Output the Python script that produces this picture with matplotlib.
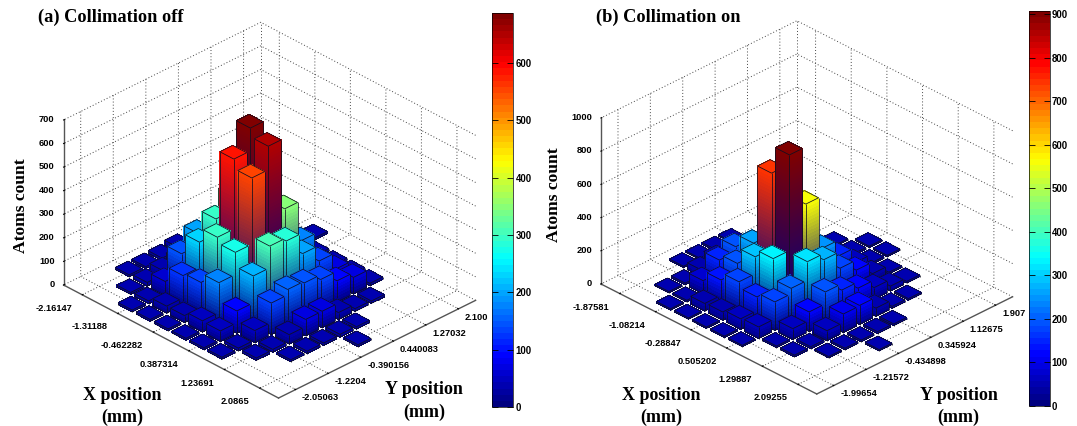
import numpy as np
import matplotlib
matplotlib.use('Agg')
import matplotlib.pyplot as plt
from matplotlib.colors import ListedColormap, Normalize
from matplotlib.cm import ScalarMappable
from matplotlib.patches import Rectangle
from mpl_toolkits.mplot3d import proj3d
from mpl_toolkits.mplot3d.art3d import Poly3DCollection, Line3DCollection

n = np.nan
counts_a = [
    [n, n, 8, 8, 10, 20, n, n, n, n, n],
    [n, 8, 16, 30, 40, 30, n, n, n, n, n],
    [8, 12, 60, 143, 195, 60, 30, n, n, n, n],
    [8, 30, 125, 232, 296, 360, 150, 60, 20, 12, 8],
    [8, 30, 136, 293, 590, 687, 250, 80, 30, 10, n],
    [8, 48, 175, 269, 550, 650, 350, 180, 50, 10, n],
    [8, 45, 95, 209, 301, 288, 200, 134, 65, 10, n],
    [8, 12, 52, 134, 157, 150, 130, 90, 70, 10, n],
    [n, 10, 12, 40, 70, 70, 30, 12, 10, n, n],
    [n, n, 8, 10, 10, 12, 10, n, n, n, n],
    [n, n, n, n, n, 8, n, n, n, n, n],
]
counts_b = [
    [n, n, n, 8, 8, 10, 8, n, n, n, n],
    [n, 8, 10, 40, 60, 15, n, n, n, n, n],
    [8, 10, 80, 155, 187, 100, 40, 15, n, n, n],
    [8, 46, 139, 190, 263, 180, 120, 50, 20, 8, n],
    [8, 50, 183, 285, 740, 300, 200, 100, 30, 10, 8],
    [8, 64, 147, 329, 905, 560, 245, 150, 60, 10, 8],
    [8, 70, 172, 205, 317, 280, 180, 120, 50, 10, n],
    [n, 10, 66, 118, 190, 152, 115, 70, 30, 10, n],
    [n, 10, 12, 60, 112, 115, 50, 12, 10, n, n],
    [n, n, 8, 10, 10, 12, 10, n, n, n, n],
    [n, n, n, n, 8, n, n, n, n, n, n],
]
xticks_a = [-2.16147, -1.31188, -0.462282, 0.387314, 1.23691, 2.0865]
yticks_a = [-2.05063, -1.2204, -0.390156, 0.440083, 1.27032, 2.10056]
xticks_b = [-1.87581, -1.08214, -0.28847, 0.505202, 1.29887, 2.09255]
yticks_b = [-1.99654, -1.21572, -0.434898, 0.345924, 1.12675, 1.90757]
xlabels_a = ['-2.16147', '-1.31188', '-0.462282', '0.387314', '1.23691', '2.0865']
ylabels_a = ['-2.05063', '-1.2204', '-0.390156', '0.440083', '1.27032', '2.10056']
xlabels_b = ['-1.87581', '-1.08214', '-0.28847', '0.505202', '1.29887', '2.09255']
ylabels_b = ['-1.99654', '-1.21572', '-0.434898', '0.345924', '1.12675', '1.90757']
zticks_a = [0, 100, 200, 300, 400, 500, 600, 700]
zticks_b = [0, 200, 400, 600, 800, 1000]
cticks_a = [0, 100, 200, 300, 400, 500, 600]
cticks_b = [0, 100, 200, 300, 400, 500, 600, 700, 800, 900]
cmax_a = 687
cmax_b = 907

W, H = 1077, 426
plt.rcParams['grid.linestyle'] = (0, (1, 2.2))
plt.rcParams['grid.color'] = '#444444'
plt.rcParams['grid.linewidth'] = 0.7
plt.rcParams['font.family'] = ['Liberation Sans', 'DejaVu Sans']
SERIF = ['Liberation Serif', 'DejaVu Serif']

t_ = np.linspace(0, 1, 64)
jet64 = ListedColormap(np.column_stack([
    np.clip(np.minimum(4 * t_ - 1.5, -4 * t_ + 4.5), 0, 1),
    np.clip(np.minimum(4 * t_ - 0.5, -4 * t_ + 3.5), 0, 1),
    np.clip(np.minimum(4 * t_ + 0.5, -4 * t_ + 2.5), 0, 1),
]))
fig = plt.figure(figsize=(W / 100, H / 100), dpi=100, facecolor='white')


def add_bar(ax, cx, cy, hgt, wx, wy, top_rgb, bottom_rgb, zo):
    x0, x1 = cx - wx / 2, cx + wx / 2
    y0, y1 = cy - wy / 2, cy + wy / 2
    polys, cols = [], []
    nseg = max(2, int(np.ceil(hgt / ax.get_zlim()[1] * 48)))
    zs = np.linspace(0, hgt, nseg + 1)
    for k in range(nseg):
        t = (k + 0.5) / nseg
        c = tuple((1 - t) * np.array(bottom_rgb) + t * np.array(top_rgb))
        polys.append([(x1, y0, zs[k]), (x1, y1, zs[k]), (x1, y1, zs[k + 1]), (x1, y0, zs[k + 1])])
        cols.append(c)
        polys.append([(x0, y0, zs[k]), (x1, y0, zs[k]), (x1, y0, zs[k + 1]), (x0, y0, zs[k + 1])])
        cols.append(c)
    polys.append([(x0, y0, hgt), (x1, y0, hgt), (x1, y1, hgt), (x0, y1, hgt)])
    cols.append(tuple(top_rgb))
    pc = Poly3DCollection(polys, facecolors=cols, edgecolors='none', linewidths=0, antialiaseds=False)
    pc.set_zorder(zo)
    ax.add_collection3d(pc, autolim=False)
    segs = [
        [(x0, y0, hgt), (x1, y0, hgt)], [(x1, y0, hgt), (x1, y1, hgt)],
        [(x1, y1, hgt), (x0, y1, hgt)], [(x0, y1, hgt), (x0, y0, hgt)],
        [(x0, y0, 0), (x0, y0, hgt)], [(x1, y0, 0), (x1, y0, hgt)], [(x1, y1, 0), (x1, y1, hgt)],
        [(x0, y0, 0), (x1, y0, 0)], [(x1, y0, 0), (x1, y1, 0)],
    ]
    lc = Line3DCollection(segs, colors='#101020', linewidths=0.55)
    lc.set_zorder(zo + 0.5)
    ax.add_collection3d(lc, autolim=False)


def panel(counts, xt, yt, xl, yl, zt, cmax, L, R, elev, azim, aspect, grid_fit,
          cbox, cticks):
    counts = np.array(counts, dtype=float)
    ax = fig.add_axes([0.1, 0.1, 0.5, 0.5], projection='3d', proj_type='ortho')
    ax.set_facecolor('none')
    ax.computed_zorder = False
    ax.view_init(elev=elev, azim=azim)
    ax.set_box_aspect(aspect)
    dx = (xt[-1] - xt[0]) / 10
    dy = (yt[-1] - yt[0]) / 10
    ax.set_xlim(xt[0] - 1.05 * dx, xt[-1] + 1.05 * dx)
    ax.set_ylim(yt[0] - 1.05 * dy, yt[-1] + 1.05 * dy)
    ax.set_zlim(zt[0], zt[-1])
    ax.set_xticks(xt)
    ax.set_yticks(yt)
    ax.set_zticks(zt)
    kw = dict(fontweight='bold', fontsize=6.7)
    ax.set_xticklabels(xl, ha='right', va='center', **kw)
    ax.set_yticklabels(yl, ha='left', va='center', **kw)
    ax.set_zticklabels([str(v) for v in zt], ha='right', va='center', **kw)
    for a in (ax.xaxis, ax.yaxis, ax.zaxis):
        a.pane.set_facecolor('white')
        a.pane.set_edgecolor('none')
        a.line.set_color('#555555')
        a.line.set_linewidth(1.0)
        a._axinfo['tick']['inward_factor'] = 0.0
        a._axinfo['tick']['outward_factor'] = 0.05
        a._axinfo['tick']['linewidth'] = {True: 0.8, False: 0.5}
        a._axinfo['tick']['color'] = '#333333'
    ax.tick_params(axis='x', pad=0.5)
    ax.tick_params(axis='y', pad=-3)
    ax.tick_params(axis='z', pad=-4.4)
    ax.zaxis.set_ticks_position('lower')
    ax.grid(True)
    # dotted back edge of the box
    ax.plot([ax.get_xlim()[0]] * 2, [ax.get_ylim()[1]] * 2, ax.get_zlim(), color='#444444',
            lw=0.7, ls=(0, (1, 2.2)), zorder=0)

    # the near-empty cells print a little brighter than the lowest colour band
    cols = jet64(Normalize(0, cmax)(np.maximum(np.nan_to_num(counts), 0.055 * cmax)))
    bottom = jet64(0)[:3]
    off, scale = grid_fit
    zo = 1
    for i in range(counts.shape[0]):
        for j in range(counts.shape[1] - 1, -1, -1):
            if np.isnan(counts[i, j]):
                continue
            add_bar(ax, xt[0] + dx * (off + scale * i), yt[0] + dy * (off + scale * j),
                    counts[i, j], 0.79 * dx, 0.79 * dy, cols[i, j][:3], bottom, zo)
            zo += 1

    # place the axes so the box corners land on the wanted pixels
    xl_, yl_ = ax.get_xlim(), ax.get_ylim()

    def px(x, y, z):
        xs, ys, _ = proj3d.proj_transform(x, y, z, ax.get_proj())
        p = ax.transData.transform((xs, ys))
        return p[0], H - p[1]

    side = 400.0
    cx, cy = L[0], H - L[1]
    for _ in range(3):
        ax.set_position([(cx - side / 2) / W, (cy - side / 2) / H, side / W, side / H])
        ax.apply_aspect()
        lft = px(xl_[0], yl_[0], 0)
        rgt = px(xl_[1], yl_[1], 0)
        side *= (R[0] - L[0]) / (rgt[0] - lft[0])
        ax.set_position([(cx - side / 2) / W, (cy - side / 2) / H, side / W, side / H])
        ax.apply_aspect()
        lft = px(xl_[0], yl_[0], 0)
        cx += L[0] - lft[0]
        cy -= L[1] - lft[1]
    ax.set_position([(cx - side / 2) / W, (cy - side / 2) / H, side / W, side / H])

    # colour bar
    fig.add_artist(Rectangle(((cbox[0] - 4) / W, 0), 28 / W, 1, transform=fig.transFigure,
                             facecolor='white', edgecolor='none', zorder=1))
    cax = fig.add_axes([cbox[0] / W, 1 - cbox[3] / H, (cbox[1] - cbox[0]) / W, (cbox[3] - cbox[2]) / H])
    cax.set_zorder(2)
    cb = fig.colorbar(ScalarMappable(Normalize(0, cmax), jet64), cax=cax, ticks=cticks)
    cb.outline.set_linewidth(0.5)
    cax.tick_params(axis='y', direction='in', length=4, width=0.6, left=True, right=True, pad=1.5,
                    labelsize=6.9)
    for t in cax.get_yticklabels():
        t.set_fontweight('bold')
    return ax


panel(counts_a, xticks_a, yticks_a, xlabels_a, ylabels_a, zticks_a, cmax_a,
      (63.6, 285), (475.6, 299.3), 30.7, -44.15, (308.5, 274.6, 191.9),
      (-0.107, 1.01), (491.7, 513.3, 13, 407), cticks_a)
panel(counts_b, xticks_b, yticks_b, xlabels_b, ylabels_b, zticks_b, cmax_b,
      (601, 284), (1012.6, 296.7), 30.2, -44.62, (307, 275, 192),
      (-0.08, 1.006), (1028.7, 1049.7, 11, 406), cticks_b)


def ftext(x, y, s, size=12.6, **kw):
    fig.text(x / W, 1 - y / H, s, family=SERIF, fontweight='bold', fontsize=size, zorder=5,
             ha=kw.pop('ha', 'center'), va='center', **kw)


ftext(37.8, 17, '(a) Collimation off', ha='left', size=13.25)
ftext(595.8, 17, '(b) Collimation on', ha='left', size=13.25)
ftext(21, 206, 'Atoms count', rotation=90)
ftext(554.4, 195, 'Atoms count', rotation=90)
ftext(122.6, 395, 'X position', size=13)
ftext(122.6, 417, '(mm)', size=13)
ftext(424.3, 390, 'Y position', size=13)
ftext(424.3, 412, '(mm)', size=13)
ftext(661.6, 395, 'X position', size=13)
ftext(661.6, 417, '(mm)', size=13)
ftext(958.5, 395, 'Y position', size=13)
ftext(958.5, 417, '(mm)', size=13)

fig.savefig('out.png', dpi=100)
